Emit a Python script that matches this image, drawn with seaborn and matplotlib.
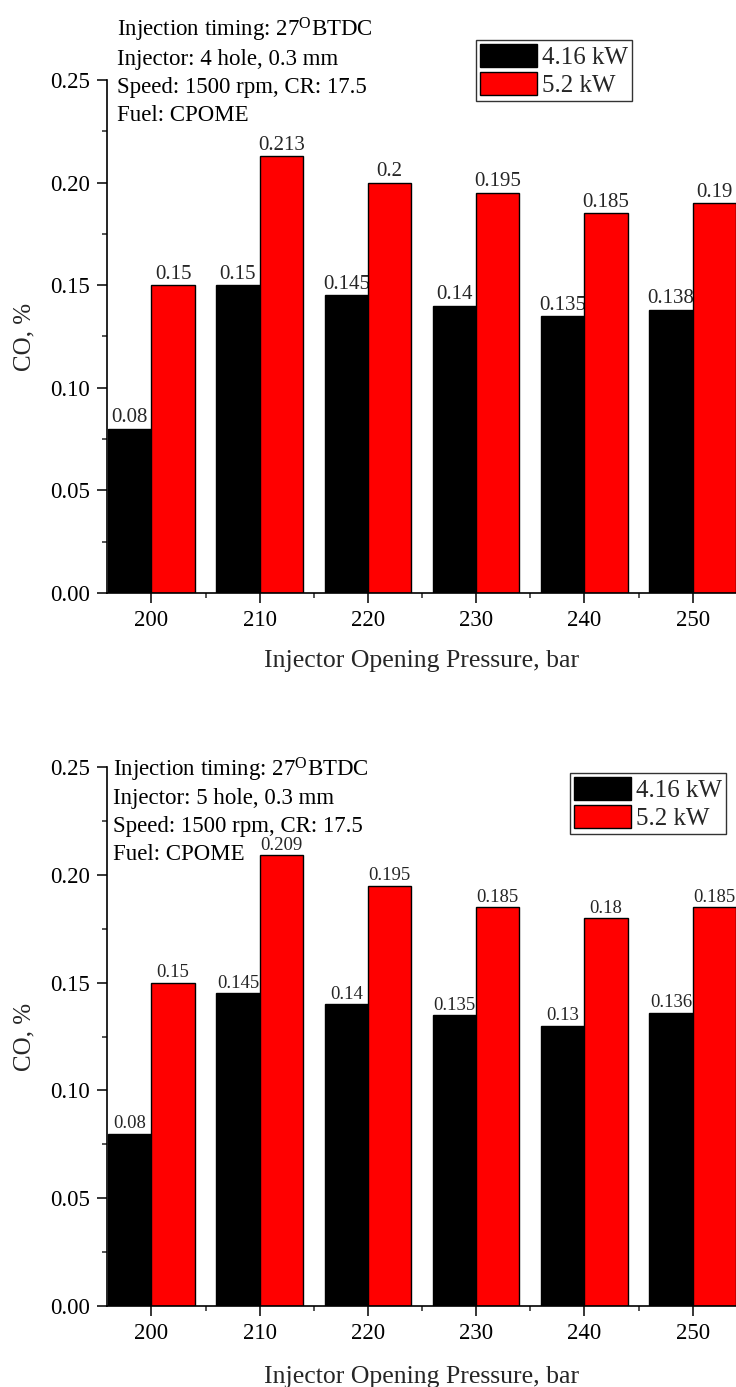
import matplotlib
matplotlib.use("Agg")
import matplotlib.pyplot as plt
import numpy as np
import pandas as pd
import seaborn as sns
from matplotlib.ticker import FixedLocator, MultipleLocator, FormatStrFormatter

# ---- data ----
pressures = [200, 210, 220, 230, 240, 250]
loads = ["4.16 kW", "5.2 kW"]
co_4hole_416 = [0.08, 0.15, 0.145, 0.14, 0.135, 0.138]
co_4hole_52 = [0.15, 0.213, 0.2, 0.195, 0.185, 0.19]
co_5hole_416 = [0.08, 0.145, 0.14, 0.135, 0.13, 0.136]
co_5hole_52 = [0.15, 0.209, 0.195, 0.185, 0.18, 0.185]
info_4hole = ["Injection timing: 27$^{\\mathrm{O}}$BTDC", "Injector: 4 hole, 0.3 mm",
              "Speed: 1500 rpm, CR: 17.5", "Fuel: CPOME"]
info_5hole = ["Injection timing: 27$^{\\mathrm{O}}$BTDC", "Injector: 5 hole, 0.3 mm",
              "Speed: 1500 rpm, CR: 17.5", "Fuel: CPOME"]
colors = ["#000000", "#ff0000"]
xlabel = "Injector Opening Pressure, bar"
ylabel = "CO, %"

sns.set_theme(style="ticks")
plt.rcParams["font.family"] = ["Liberation Serif", "DejaVu Serif"]
plt.rcParams["mathtext.fontset"] = "custom"
plt.rcParams["mathtext.rm"] = "Liberation Serif"
plt.rcParams["mathtext.it"] = "Liberation Serif:italic"
plt.rcParams["mathtext.bf"] = "Liberation Serif:bold"

W, H = 736, 1387
fig = plt.figure(figsize=(W / 100, H / 100), dpi=100)


def fx(px):
    return px / W


def fy(py):
    return 1 - py / H


def panel(top_px, bot_px, v416, v52, info, info_x, info_base, leg_xy, lab_fs, xl_off):
    ax = fig.add_axes([fx(107), fy(bot_px), fx(736) - fx(107), (bot_px - top_px) / H])
    df = pd.DataFrame({
        "pressure": pressures * 2,
        "co": v416 + v52,
        "load": [loads[0]] * len(pressures) + [loads[1]] * len(pressures),
    })
    sns.barplot(data=df, x="pressure", y="co", hue="load", order=pressures,
                hue_order=loads, palette=colors, saturation=1, width=0.8,
                edgecolor="black", linewidth=1.0, errorbar=None, ax=ax)
    for cont, vals in zip(ax.containers, [v416, v52]):
        ax.bar_label(cont, labels=[f"{v:g}" for v in vals], padding=1,
                     fontsize=lab_fs, zorder=0.5)
    ax.set_xlim(-0.41, 5.40)
    ax.set_ylim(0, 0.25)
    ax.yaxis.set_major_locator(MultipleLocator(0.05))
    ax.yaxis.set_minor_locator(MultipleLocator(0.025))
    ax.yaxis.set_major_formatter(FormatStrFormatter("%.2f"))
    ax.xaxis.set_minor_locator(FixedLocator([0.5, 1.5, 2.5, 3.5, 4.5]))
    ax.tick_params(which="major", direction="out", length=7, width=1.1,
                   labelsize=16.5, pad=5, colors="black")
    ax.tick_params(which="minor", direction="out", length=3.5, width=1.1)
    for s in ["top", "right"]:
        ax.spines[s].set_visible(False)
    for s in ["left", "bottom"]:
        ax.spines[s].set_linewidth(1.2)
        ax.spines[s].set_color("black")
    ax.set_xlabel(xlabel, fontsize=18.5)
    ax.set_ylabel(ylabel, fontsize=18)
    ax.yaxis.set_label_coords((35 - 107) / 629, 0.5)
    ax.xaxis.set_label_coords(0.5, -xl_off / (bot_px - top_px))
    handles, labs = ax.get_legend_handles_labels()
    ax.legend(handles, labs, loc="upper left",
              bbox_to_anchor=(fx(leg_xy[0]), fy(leg_xy[1])),
              bbox_transform=fig.transFigure, borderaxespad=0,
              fontsize=18, frameon=True, fancybox=False, framealpha=1,
              edgecolor="#333333", borderpad=0.15, handlelength=2.28,
              handleheight=1.05, handletextpad=0.2, labelspacing=0.12,
              title=None)
    ax.get_legend().get_frame().set_linewidth(1.0)
    for i, line in enumerate(info):
        fig.text(fx(info_x), fy(info_base + i * 28), line, fontsize=16.5,
                 va="baseline", ha="left", color="black")
    return ax


panel(80, 593, co_4hole_416, co_4hole_52, info_4hole, 117, 37, (476, 40), 15, 57)
panel(767, 1306, co_5hole_416, co_5hole_52, info_5hole, 113, 776, (570, 773), 13.5, 60)

fig.savefig("out.png", dpi=100)
